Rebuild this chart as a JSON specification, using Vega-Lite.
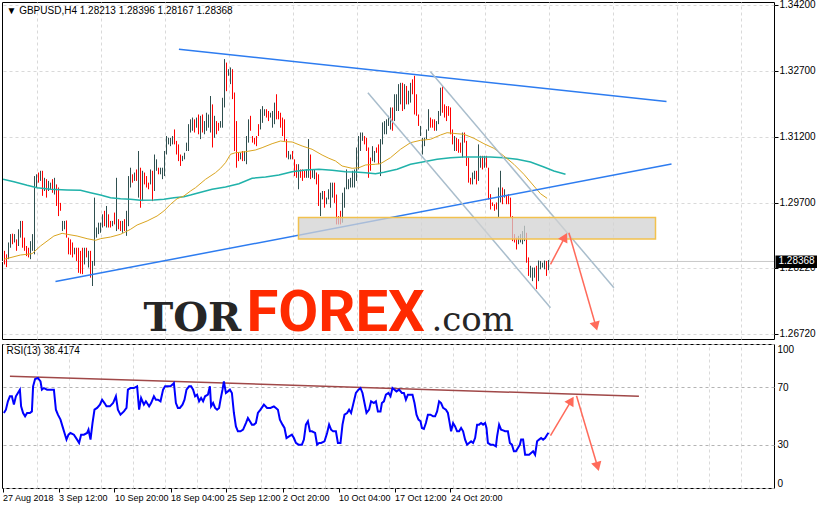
{
"$schema": "https://vega.github.io/schema/vega-lite/v6.json",
"background": "white",
"padding": {"left": -1, "top": -1, "right": 0, "bottom": 0},
"spacing": -5,
"config": {"view": {"stroke": "#000000", "strokeWidth": 1}, "font": "Liberation Sans", "axis": {"labelFont": "Liberation Sans", "labelFontSize": 10, "labelColor": "#000000", "tickColor": "#000000"}},
"datasets": {
"candles": [
{"i":1,"d":"dn","h":1.2861,"l":1.2830},{"i":2,"d":"dn","h":1.2853,"l":1.2824},{"i":3,"d":"up","h":1.2880,"l":1.2842},{"i":4,"d":"up","h":1.2899,"l":1.2868},{"i":5,"d":"dn","h":1.2900,"l":1.2876},{"i":6,"d":"up","h":1.2899,"l":1.2880},{"i":7,"d":"dn","h":1.2887,"l":1.2861},{"i":8,"d":"up","h":1.2910,"l":1.2872},{"i":9,"d":"up","h":1.2929,"l":1.2891},{"i":10,"d":"dn","h":1.2929,"l":1.2868},
{"i":11,"d":"dn","h":1.2891,"l":1.2861},{"i":12,"d":"dn","h":1.2872,"l":1.2849},{"i":13,"d":"dn","h":1.2868,"l":1.2846},{"i":14,"d":"up","h":1.2883,"l":1.2842},{"i":15,"d":"up","h":1.2899,"l":1.2861},{"i":16,"d":"up","h":1.3031,"l":1.2853},{"i":17,"d":"up","h":1.3035,"l":1.3005},{"i":18,"d":"dn","h":1.3039,"l":1.3016},{"i":19,"d":"up","h":1.3043,"l":1.3020},{"i":20,"d":"dn","h":1.3043,"l":1.2986},
{"i":21,"d":"up","h":1.3027,"l":1.2997},{"i":22,"d":"dn","h":1.3024,"l":1.2982},{"i":23,"d":"up","h":1.3020,"l":1.2997},{"i":24,"d":"up","h":1.3016,"l":1.3001},{"i":25,"d":"dn","h":1.3024,"l":1.2993},{"i":26,"d":"up","h":1.3027,"l":1.2989},{"i":27,"d":"dn","h":1.3012,"l":1.2963},{"i":28,"d":"dn","h":1.3005,"l":1.2940},{"i":29,"d":"dn","h":1.2970,"l":1.2952},{"i":30,"d":"up","h":1.2929,"l":1.2906},
{"i":31,"d":"up","h":1.2929,"l":1.2910},{"i":32,"d":"dn","h":1.2930,"l":1.2891},{"i":33,"d":"dn","h":1.2891,"l":1.2853},{"i":34,"d":"dn","h":1.2887,"l":1.2852},{"i":35,"d":"dn","h":1.2880,"l":1.2846},{"i":36,"d":"up","h":1.2868,"l":1.2853},{"i":37,"d":"dn","h":1.2868,"l":1.2838},{"i":38,"d":"dn","h":1.2868,"l":1.2811},{"i":39,"d":"dn","h":1.2861,"l":1.2809},{"i":40,"d":"dn","h":1.2868,"l":1.2808},
{"i":41,"d":"up","h":1.2868,"l":1.2830},{"i":42,"d":"dn","h":1.2868,"l":1.2846},{"i":43,"d":"up","h":1.2861,"l":1.2823},{"i":44,"d":"dn","h":1.2861,"l":1.2800},{"i":45,"d":"up","h":1.2838,"l":1.2781},{"i":46,"d":"up","h":1.2982,"l":1.2827},{"i":47,"d":"up","h":1.2914,"l":1.2891},{"i":48,"d":"up","h":1.2925,"l":1.2899},{"i":49,"d":"up","h":1.2925,"l":1.2902},{"i":50,"d":"up","h":1.2944,"l":1.2914},
{"i":51,"d":"dn","h":1.2952,"l":1.2917},{"i":52,"d":"up","h":1.2963,"l":1.2914},{"i":53,"d":"dn","h":1.2944,"l":1.2914},{"i":54,"d":"dn","h":1.2929,"l":1.2914},{"i":55,"d":"up","h":1.2929,"l":1.2917},{"i":56,"d":"dn","h":1.2948,"l":1.2921},{"i":57,"d":"up","h":1.3027,"l":1.2906},{"i":58,"d":"dn","h":1.2933,"l":1.2910},{"i":59,"d":"dn","h":1.2929,"l":1.2906},{"i":60,"d":"up","h":1.2929,"l":1.2902},
{"i":61,"d":"dn","h":1.2933,"l":1.2906},{"i":62,"d":"up","h":1.2952,"l":1.2895},{"i":63,"d":"up","h":1.3031,"l":1.2917},{"i":64,"d":"up","h":1.3050,"l":1.3005},{"i":65,"d":"dn","h":1.3035,"l":1.3016},{"i":66,"d":"up","h":1.3039,"l":1.3020},{"i":67,"d":"dn","h":1.3046,"l":1.3020},{"i":68,"d":"up","h":1.3088,"l":1.2982},{"i":69,"d":"dn","h":1.3050,"l":1.2959},{"i":70,"d":"up","h":1.3043,"l":1.2974},
{"i":71,"d":"dn","h":1.3039,"l":1.3012},{"i":72,"d":"dn","h":1.3031,"l":1.3005},{"i":73,"d":"dn","h":1.3016,"l":1.3001},{"i":74,"d":"up","h":1.3046,"l":1.3012},{"i":75,"d":"dn","h":1.3043,"l":1.2974},{"i":76,"d":"up","h":1.3080,"l":1.2997},{"i":77,"d":"up","h":1.3069,"l":1.3043},{"i":78,"d":"dn","h":1.3050,"l":1.3035},{"i":79,"d":"up","h":1.3050,"l":1.3035},{"i":80,"d":"up","h":1.3050,"l":1.3024},
{"i":81,"d":"up","h":1.3088,"l":1.3031},{"i":82,"d":"up","h":1.3122,"l":1.3080},{"i":83,"d":"up","h":1.3118,"l":1.3103},{"i":84,"d":"up","h":1.3118,"l":1.3099},{"i":85,"d":"up","h":1.3122,"l":1.3103},{"i":86,"d":"dn","h":1.3137,"l":1.3103},{"i":87,"d":"dn","h":1.3111,"l":1.3080},{"i":88,"d":"dn","h":1.3103,"l":1.3065},{"i":89,"d":"dn","h":1.3080,"l":1.3054},{"i":90,"d":"up","h":1.3077,"l":1.3065},
{"i":91,"d":"up","h":1.3084,"l":1.3069},{"i":92,"d":"up","h":1.3107,"l":1.3088},{"i":93,"d":"up","h":1.3149,"l":1.3088},{"i":94,"d":"up","h":1.3160,"l":1.3130},{"i":95,"d":"up","h":1.3164,"l":1.3134},{"i":96,"d":"dn","h":1.3160,"l":1.3130},{"i":97,"d":"up","h":1.3164,"l":1.3141},{"i":98,"d":"dn","h":1.3171,"l":1.3126},{"i":99,"d":"up","h":1.3168,"l":1.3115},{"i":100,"d":"dn","h":1.3171,"l":1.3130},
{"i":101,"d":"up","h":1.3156,"l":1.3126},{"i":102,"d":"up","h":1.3175,"l":1.3134},{"i":103,"d":"up","h":1.3171,"l":1.3141},{"i":104,"d":"up","h":1.3213,"l":1.3130},{"i":105,"d":"dn","h":1.3194,"l":1.3096},{"i":106,"d":"up","h":1.3168,"l":1.3118},{"i":107,"d":"dn","h":1.3156,"l":1.3126},{"i":108,"d":"dn","h":1.3152,"l":1.3134},{"i":109,"d":"up","h":1.3156,"l":1.3141},{"i":110,"d":"up","h":1.3209,"l":1.3141},
{"i":111,"d":"up","h":1.3297,"l":1.3187},{"i":112,"d":"dn","h":1.3289,"l":1.3224},{"i":113,"d":"up","h":1.3274,"l":1.3259},{"i":114,"d":"up","h":1.3278,"l":1.3240},{"i":115,"d":"dn","h":1.3274,"l":1.3206},{"i":116,"d":"dn","h":1.3221,"l":1.3088},{"i":117,"d":"dn","h":1.3156,"l":1.3050},{"i":118,"d":"dn","h":1.3084,"l":1.3065},{"i":119,"d":"up","h":1.3084,"l":1.3069},{"i":120,"d":"dn","h":1.3088,"l":1.3065},
{"i":121,"d":"up","h":1.3088,"l":1.3065},{"i":122,"d":"up","h":1.3122,"l":1.3058},{"i":123,"d":"up","h":1.3160,"l":1.3107},{"i":124,"d":"dn","h":1.3168,"l":1.3134},{"i":125,"d":"dn","h":1.3122,"l":1.3107},{"i":126,"d":"dn","h":1.3118,"l":1.3103},{"i":127,"d":"dn","h":1.3122,"l":1.3099},{"i":128,"d":"dn","h":1.3149,"l":1.3122},{"i":129,"d":"up","h":1.3183,"l":1.3137},{"i":130,"d":"up","h":1.3190,"l":1.3152},
{"i":131,"d":"up","h":1.3183,"l":1.3168},{"i":132,"d":"dn","h":1.3183,"l":1.3164},{"i":133,"d":"dn","h":1.3179,"l":1.3156},{"i":134,"d":"up","h":1.3175,"l":1.3164},{"i":135,"d":"up","h":1.3179,"l":1.3141},{"i":136,"d":"up","h":1.3198,"l":1.3149},{"i":137,"d":"dn","h":1.3217,"l":1.3160},{"i":138,"d":"dn","h":1.3179,"l":1.3160},{"i":139,"d":"dn","h":1.3175,"l":1.3141},{"i":140,"d":"dn","h":1.3164,"l":1.3122},
{"i":141,"d":"dn","h":1.3160,"l":1.3111},{"i":142,"d":"dn","h":1.3115,"l":1.3073},{"i":143,"d":"up","h":1.3088,"l":1.3069},{"i":144,"d":"up","h":1.3080,"l":1.3069},{"i":145,"d":"dn","h":1.3088,"l":1.3069},{"i":146,"d":"dn","h":1.3069,"l":1.3031},{"i":147,"d":"dn","h":1.3058,"l":1.3027},{"i":148,"d":"up","h":1.3058,"l":1.3001},{"i":149,"d":"dn","h":1.3046,"l":1.3027},{"i":150,"d":"dn","h":1.3046,"l":1.3020},
{"i":151,"d":"dn","h":1.3043,"l":1.3027},{"i":152,"d":"up","h":1.3046,"l":1.3027},{"i":153,"d":"up","h":1.3115,"l":1.3027},{"i":154,"d":"dn","h":1.3080,"l":1.3024},{"i":155,"d":"up","h":1.3046,"l":1.3027},{"i":156,"d":"up","h":1.3046,"l":1.3024},{"i":157,"d":"dn","h":1.3039,"l":1.3012},{"i":158,"d":"dn","h":1.3035,"l":1.2963},{"i":159,"d":"up","h":1.2993,"l":1.2940},{"i":160,"d":"up","h":1.2997,"l":1.2978},
{"i":161,"d":"dn","h":1.2997,"l":1.2959},{"i":162,"d":"up","h":1.2982,"l":1.2967},{"i":163,"d":"up","h":1.3001,"l":1.2978},{"i":164,"d":"up","h":1.3016,"l":1.2959},{"i":165,"d":"up","h":1.3016,"l":1.2982},{"i":166,"d":"dn","h":1.3016,"l":1.2970},{"i":167,"d":"dn","h":1.2989,"l":1.2921},{"i":168,"d":"dn","h":1.2940,"l":1.2921},{"i":169,"d":"dn","h":1.2952,"l":1.2921},{"i":170,"d":"up","h":1.2993,"l":1.2925},
{"i":171,"d":"up","h":1.3005,"l":1.2959},{"i":172,"d":"up","h":1.3046,"l":1.3001},{"i":173,"d":"up","h":1.3024,"l":1.3001},{"i":174,"d":"up","h":1.3027,"l":1.3005},{"i":175,"d":"up","h":1.3043,"l":1.3005},{"i":176,"d":"up","h":1.3046,"l":1.3005},{"i":177,"d":"up","h":1.3096,"l":1.3020},{"i":178,"d":"up","h":1.3122,"l":1.3046},{"i":179,"d":"up","h":1.3130,"l":1.3088},{"i":180,"d":"up","h":1.3130,"l":1.3111},
{"i":181,"d":"dn","h":1.3122,"l":1.3103},{"i":182,"d":"dn","h":1.3118,"l":1.3088},{"i":183,"d":"dn","h":1.3096,"l":1.3027},{"i":184,"d":"dn","h":1.3073,"l":1.3043},{"i":185,"d":"up","h":1.3099,"l":1.3065},{"i":186,"d":"up","h":1.3088,"l":1.3062},{"i":187,"d":"dn","h":1.3096,"l":1.3084},{"i":188,"d":"dn","h":1.3103,"l":1.3058},{"i":189,"d":"up","h":1.3115,"l":1.3031},{"i":190,"d":"up","h":1.3153,"l":1.3103},
{"i":191,"d":"up","h":1.3156,"l":1.3126},{"i":192,"d":"up","h":1.3160,"l":1.3126},{"i":193,"d":"up","h":1.3168,"l":1.3145},{"i":194,"d":"up","h":1.3187,"l":1.3137},{"i":195,"d":"dn","h":1.3187,"l":1.3134},{"i":196,"d":"up","h":1.3217,"l":1.3156},{"i":197,"d":"up","h":1.3217,"l":1.3179},{"i":198,"d":"up","h":1.3240,"l":1.3179},{"i":199,"d":"up","h":1.3243,"l":1.3194},{"i":200,"d":"dn","h":1.3243,"l":1.3179},
{"i":201,"d":"up","h":1.3240,"l":1.3183},{"i":202,"d":"dn","h":1.3236,"l":1.3194},{"i":203,"d":"up","h":1.3225,"l":1.3194},{"i":204,"d":"up","h":1.3243,"l":1.3198},{"i":205,"d":"dn","h":1.3251,"l":1.3217},{"i":206,"d":"dn","h":1.3259,"l":1.3171},{"i":207,"d":"dn","h":1.3217,"l":1.3168},{"i":208,"d":"dn","h":1.3171,"l":1.3145},{"i":209,"d":"up","h":1.3145,"l":1.3122},{"i":210,"d":"up","h":1.3118,"l":1.3080},
{"i":211,"d":"up","h":1.3118,"l":1.3099},{"i":212,"d":"up","h":1.3137,"l":1.3115},{"i":213,"d":"up","h":1.3183,"l":1.3134},{"i":214,"d":"dn","h":1.3164,"l":1.3141},{"i":215,"d":"dn","h":1.3160,"l":1.3141},{"i":216,"d":"dn","h":1.3160,"l":1.3134},{"i":217,"d":"up","h":1.3156,"l":1.3134},{"i":218,"d":"up","h":1.3179,"l":1.3149},{"i":219,"d":"up","h":1.3232,"l":1.3168},{"i":220,"d":"dn","h":1.3236,"l":1.3175},
{"i":221,"d":"dn","h":1.3194,"l":1.3164},{"i":222,"d":"dn","h":1.3190,"l":1.3156},{"i":223,"d":"dn","h":1.3190,"l":1.3168},{"i":224,"d":"dn","h":1.3187,"l":1.3126},{"i":225,"d":"dn","h":1.3137,"l":1.3103},{"i":226,"d":"up","h":1.3122,"l":1.3088},{"i":227,"d":"dn","h":1.3118,"l":1.3088},{"i":228,"d":"dn","h":1.3115,"l":1.3084},{"i":229,"d":"dn","h":1.3107,"l":1.3084},{"i":230,"d":"up","h":1.3130,"l":1.3073},
{"i":231,"d":"dn","h":1.3130,"l":1.3107},{"i":232,"d":"dn","h":1.3111,"l":1.3054},{"i":233,"d":"dn","h":1.3073,"l":1.3016},{"i":234,"d":"dn","h":1.3027,"l":1.3012},{"i":235,"d":"up","h":1.3039,"l":1.3012},{"i":236,"d":"up","h":1.3043,"l":1.3024},{"i":237,"d":"dn","h":1.3043,"l":1.3012},{"i":238,"d":"up","h":1.3103,"l":1.3020},{"i":239,"d":"up","h":1.3077,"l":1.3050},{"i":240,"d":"dn","h":1.3077,"l":1.3046},
{"i":241,"d":"up","h":1.3077,"l":1.3050},{"i":242,"d":"dn","h":1.3077,"l":1.3050},{"i":243,"d":"dn","h":1.3050,"l":1.2978},{"i":244,"d":"dn","h":1.2990,"l":1.2955},{"i":245,"d":"dn","h":1.2971,"l":1.2963},{"i":246,"d":"dn","h":1.2967,"l":1.2952},{"i":247,"d":"dn","h":1.2971,"l":1.2955},{"i":248,"d":"up","h":1.3005,"l":1.2936},{"i":249,"d":"up","h":1.3043,"l":1.2971},{"i":250,"d":"dn","h":1.3005,"l":1.2967},
{"i":251,"d":"up","h":1.3001,"l":1.2982},{"i":252,"d":"dn","h":1.2986,"l":1.2967},{"i":253,"d":"dn","h":1.2990,"l":1.2967},{"i":254,"d":"dn","h":1.2982,"l":1.2936},{"i":255,"d":"dn","h":1.2940,"l":1.2883},{"i":256,"d":"dn","h":1.2899,"l":1.2880},{"i":257,"d":"dn","h":1.2891,"l":1.2864},{"i":258,"d":"up","h":1.2895,"l":1.2876},{"i":259,"d":"up","h":1.2899,"l":1.2880},{"i":260,"d":"up","h":1.2906,"l":1.2876},
{"i":261,"d":"up","h":1.2918,"l":1.2883},{"i":262,"d":"dn","h":1.2902,"l":1.2834},{"i":263,"d":"dn","h":1.2846,"l":1.2804},{"i":264,"d":"up","h":1.2827,"l":1.2800},{"i":265,"d":"up","h":1.2823,"l":1.2792},{"i":266,"d":"up","h":1.2823,"l":1.2800},{"i":267,"d":"dn","h":1.2827,"l":1.2774},{"i":268,"d":"up","h":1.2839,"l":1.2792},{"i":269,"d":"up","h":1.2838,"l":1.2819},{"i":270,"d":"up","h":1.2834,"l":1.2823},
{"i":271,"d":"up","h":1.2839,"l":1.2819},{"i":272,"d":"dn","h":1.2838,"l":1.2804},{"i":273,"d":"up","h":1.2840,"l":1.2817}
],
"maFast": [
{"i":0.7,"v":1.28417},{"i":9,"v":1.28515},{"i":14.8,"v":1.28545},{"i":19,"v":1.2872},{"i":25.7,"v":1.28947},{"i":29.8,"v":1.29008},{"i":32.3,"v":1.28986},{"i":37.3,"v":1.28947},{"i":42.3,"v":1.28886},{"i":46.5,"v":1.28849},{"i":49,"v":1.28886},{"i":54,"v":1.28924},{"i":59,"v":1.28986},{"i":64,"v":1.29099},{"i":67.3,"v":1.29197},{"i":72.3,"v":1.29288},{"i":77.3,"v":1.29402},{"i":80.7,"v":1.29516},{"i":84,"v":1.29668},{"i":87.3,"v":1.29795},{"i":90.7,"v":1.29857},{"i":94,"v":1.2997},{"i":96.5,"v":1.30045},{"i":101.5,"v":1.30236},{"i":106.5,"v":1.30387},{"i":109,"v":1.30486},{"i":111.5,"v":1.30614},{"i":114,"v":1.30805},{"i":116.5,"v":1.30841},{"i":121.5,"v":1.30864},{"i":126.5,"v":1.30903},{"i":129.8,"v":1.30955},{"i":134.8,"v":1.31046},{"i":139,"v":1.31107},{"i":141.5,"v":1.31092},{"i":144.8,"v":1.31085},{"i":149.8,"v":1.30994},{"i":154.8,"v":1.30919},{"i":159.8,"v":1.30789},{"i":163.2,"v":1.30714},{"i":166.5,"v":1.30653},{"i":169.8,"v":1.30539},{"i":174.8,"v":1.30486},{"i":178.2,"v":1.305},{"i":181.5,"v":1.30562},{"i":186.5,"v":1.30578},{"i":189,"v":1.30592},{"i":194,"v":1.30728},{"i":199,"v":1.30919},{"i":204,"v":1.31069},{"i":209,"v":1.31123},{"i":214,"v":1.31146},{"i":219,"v":1.31244},{"i":222.3,"v":1.31296},{"i":227.3,"v":1.31273},{"i":230.7,"v":1.3126},{"i":235.7,"v":1.31169},{"i":240.7,"v":1.31046},{"i":245.7,"v":1.30941},{"i":250.7,"v":1.30766},{"i":255.7,"v":1.30578},{"i":260.7,"v":1.3035},{"i":265.7,"v":1.30084},{"i":269,"v":1.29909},{"i":272.3,"v":1.29804}
],
"maSlow": [
{"i":0.3,"v":1.30236},{"i":5.7,"v":1.30182},{"i":12.3,"v":1.301},{"i":17.3,"v":1.30045},{"i":24,"v":1.30009},{"i":32.3,"v":1.29993},{"i":39,"v":1.29986},{"i":44,"v":1.29932},{"i":49,"v":1.29879},{"i":54,"v":1.29818},{"i":59,"v":1.29795},{"i":64,"v":1.29782},{"i":69,"v":1.29759},{"i":75.7,"v":1.29766},{"i":80.7,"v":1.29782},{"i":85.7,"v":1.29818},{"i":90.7,"v":1.29841},{"i":94,"v":1.29879},{"i":98.2,"v":1.29932},{"i":104.8,"v":1.30009},{"i":111.5,"v":1.30061},{"i":118.2,"v":1.30136},{"i":124.8,"v":1.30259},{"i":131.5,"v":1.30289},{"i":138.2,"v":1.30334},{"i":144.8,"v":1.30409},{"i":151.5,"v":1.30448},{"i":158.2,"v":1.30464},{"i":164.8,"v":1.30441},{"i":171.5,"v":1.30409},{"i":176.5,"v":1.30402},{"i":181.5,"v":1.30387},{"i":186.5,"v":1.30364},{"i":190.7,"v":1.30395},{"i":197.3,"v":1.30464},{"i":204,"v":1.30578},{"i":210.7,"v":1.30637},{"i":217.3,"v":1.30691},{"i":224,"v":1.30728},{"i":230.7,"v":1.30744},{"i":237.3,"v":1.30744},{"i":244,"v":1.30744},{"i":250.7,"v":1.30728},{"i":257.3,"v":1.30691},{"i":264,"v":1.3063},{"i":270.7,"v":1.30516},{"i":275.7,"v":1.30425},{"i":281.5,"v":1.3035}
],
"trend": [
{"line":"up","i":88.2,"p":1.33193},{"line":"up","i":332,"p":1.32006},
{"line":"lo","i":26.5,"p":1.27912},{"line":"lo","i":334.5,"p":1.30584},
{"line":"chA","i":182.7,"p":1.32206},{"line":"chA","i":274,"p":1.27317},
{"line":"chB","i":214,"p":1.32683},{"line":"chB","i":305.7,"p":1.27771}
],
"zone": [{"i1":148,"i2":326.5,"p1":1.28879,"p2":1.29368}],
"arrows": [
{"arrow":"a1","i":274,"p":1.28304},{"arrow":"a1","i":281.2,"p":1.28922},
{"arrow":"a2","i":283.2,"p":1.29022},{"arrow":"a2","i":296.7,"p":1.26896}
],
"heads": [{"arrow":"a1","i":281.2,"p":1.28922},{"arrow":"a2","i":296.7,"p":1.26896}],
"rsi": [
{"i":0.7,"v":52.1},{"i":1.7,"v":54.4},{"i":2.7,"v":60.2},{"i":3.7,"v":63.7},{"i":4.7,"v":63.7},{"i":5.7,"v":57.9},{"i":6.7,"v":63.7},{"i":7.7,"v":66.0},{"i":8.7,"v":68.3},{"i":9.3,"v":56.7},{"i":10.3,"v":52.1},{"i":11.3,"v":49.8},{"i":12.3,"v":52.1},{"i":13.7,"v":52.1},{"i":14.7,"v":53.2},{"i":15.3,"v":70.6},{"i":16.3,"v":75.7},{"i":17.7,"v":76.4},{"i":19,"v":74.1},{"i":19.7,"v":68.3},{"i":20.7,"v":69.4},{"i":22.3,"v":68.3},{"i":24,"v":68.3},{"i":25.7,"v":68.3},{"i":26.7,"v":54.4},{"i":27.7,"v":50.9},{"i":29,"v":47.5},{"i":30,"v":42.8},{"i":31,"v":38.2},{"i":32,"v":33.6},{"i":33,"v":37.0},{"i":34,"v":38.2},{"i":35.7,"v":37.0},{"i":37.3,"v":33.6},{"i":38.3,"v":31.3},{"i":39.3,"v":37.0},{"i":40.7,"v":37.0},{"i":42.3,"v":38.2},{"i":43,"v":40.5},{"i":44,"v":33.6},{"i":45,"v":45.1},{"i":46,"v":54.4},{"i":47.3,"v":55.6},{"i":48.7,"v":57.9},{"i":49.8,"v":61.3},{"i":51,"v":59.0},{"i":52,"v":56.7},{"i":53.7,"v":56.7},{"i":55.3,"v":59.0},{"i":56.7,"v":63.7},{"i":57.7,"v":54.4},{"i":59,"v":50.9},{"i":60.7,"v":53.2},{"i":62,"v":55.6},{"i":62.7,"v":68.3},{"i":64,"v":69.4},{"i":65.7,"v":69.4},{"i":67.3,"v":70.6},{"i":68.3,"v":54.4},{"i":69.3,"v":62.5},{"i":70.7,"v":57.9},{"i":71.7,"v":60.2},{"i":73.3,"v":56.7},{"i":74.3,"v":59.0},{"i":75.7,"v":63.7},{"i":76.7,"v":61.3},{"i":77.7,"v":61.3},{"i":79,"v":60.2},{"i":80.3,"v":68.3},{"i":81.3,"v":70.6},{"i":82.7,"v":70.6},{"i":84,"v":70.6},{"i":85,"v":71.8},{"i":85.7,"v":72.9},{"i":86.7,"v":59.0},{"i":87.7,"v":55.6},{"i":88.7,"v":55.6},{"i":90,"v":57.9},{"i":91,"v":61.3},{"i":92,"v":68.3},{"i":93.3,"v":70.6},{"i":94.3,"v":70.6},{"i":95.3,"v":68.3},{"i":96.3,"v":63.7},{"i":97.3,"v":64.8},{"i":98.3,"v":60.2},{"i":99.3,"v":62.5},{"i":100.3,"v":60.2},{"i":101.3,"v":63.7},{"i":102.7,"v":64.8},{"i":103.7,"v":70.6},{"i":104.3,"v":56.7},{"i":105.3,"v":59.0},{"i":106.3,"v":55.6},{"i":107.3,"v":54.4},{"i":108.3,"v":55.6},{"i":109,"v":61.3},{"i":110,"v":68.3},{"i":110.7,"v":74.1},{"i":111.7,"v":66.0},{"i":112.7,"v":67.1},{"i":113.7,"v":68.3},{"i":114.7,"v":66.0},{"i":115.7,"v":52.1},{"i":116.7,"v":42.8},{"i":117.7,"v":39.4},{"i":119,"v":39.4},{"i":120.3,"v":40.5},{"i":121.7,"v":45.1},{"i":122.7,"v":48.6},{"i":123.7,"v":46.3},{"i":124.7,"v":44.0},{"i":125.7,"v":44.0},{"i":126.7,"v":45.1},{"i":127.7,"v":52.1},{"i":129,"v":54.4},{"i":130.7,"v":57.9},{"i":132.3,"v":55.6},{"i":134,"v":55.6},{"i":135.7,"v":56.7},{"i":136.7,"v":55.6},{"i":137.7,"v":54.4},{"i":138.7,"v":47.5},{"i":140,"v":44.0},{"i":141,"v":41.7},{"i":142,"v":34.7},{"i":143.3,"v":35.9},{"i":144.7,"v":37.0},{"i":145.7,"v":34.7},{"i":146.7,"v":31.3},{"i":148,"v":30.1},{"i":149.7,"v":30.1},{"i":150.7,"v":33.6},{"i":151.7,"v":44.0},{"i":152.7,"v":46.3},{"i":153.7,"v":39.4},{"i":154.7,"v":39.4},{"i":156.3,"v":38.2},{"i":157.3,"v":30.1},{"i":158.3,"v":31.3},{"i":159.3,"v":31.3},{"i":161,"v":32.4},{"i":162.3,"v":38.2},{"i":163.3,"v":44.0},{"i":164.3,"v":40.5},{"i":165.3,"v":39.4},{"i":166.7,"v":39.4},{"i":167.7,"v":31.3},{"i":169,"v":31.3},{"i":170,"v":44.0},{"i":171,"v":50.9},{"i":172.3,"v":52.1},{"i":173.3,"v":54.4},{"i":174.3,"v":52.1},{"i":175.3,"v":57.9},{"i":176.7,"v":66.0},{"i":178,"v":68.3},{"i":179,"v":69.4},{"i":180,"v":66.0},{"i":181,"v":59.0},{"i":182,"v":52.1},{"i":183.3,"v":54.4},{"i":184.3,"v":60.2},{"i":185.7,"v":59.0},{"i":186.7,"v":60.2},{"i":187.7,"v":53.2},{"i":189,"v":53.2},{"i":189.7,"v":59.0},{"i":190.7,"v":60.2},{"i":191.7,"v":64.8},{"i":193,"v":66.0},{"i":194,"v":63.7},{"i":195,"v":69.4},{"i":196,"v":68.3},{"i":197,"v":67.1},{"i":198.3,"v":68.3},{"i":199.7,"v":66.0},{"i":200.7,"v":66.0},{"i":201.7,"v":61.3},{"i":202.7,"v":64.8},{"i":204,"v":64.8},{"i":205,"v":64.8},{"i":206,"v":59.0},{"i":207,"v":50.9},{"i":208,"v":47.5},{"i":209,"v":46.3},{"i":209.7,"v":41.7},{"i":210.7,"v":41.0},{"i":211.7,"v":45.1},{"i":212.7,"v":50.9},{"i":214,"v":50.9},{"i":215.3,"v":49.8},{"i":216.3,"v":49.8},{"i":217.3,"v":53.2},{"i":218.3,"v":60.2},{"i":219.3,"v":59.0},{"i":220.3,"v":55.6},{"i":221.7,"v":54.4},{"i":222.7,"v":52.1},{"i":223.3,"v":47.5},{"i":224.3,"v":39.4},{"i":225.3,"v":45.1},{"i":226.3,"v":42.8},{"i":227.3,"v":39.4},{"i":228.3,"v":39.4},{"i":229.3,"v":41.7},{"i":230.3,"v":39.4},{"i":231.3,"v":33.6},{"i":232.3,"v":30.1},{"i":233.3,"v":31.3},{"i":234.3,"v":32.4},{"i":235.3,"v":31.3},{"i":236.3,"v":34.7},{"i":237.3,"v":44.0},{"i":238.3,"v":44.0},{"i":239.3,"v":45.1},{"i":240.3,"v":44.0},{"i":241.3,"v":45.1},{"i":242,"v":41.7},{"i":242.7,"v":31.3},{"i":244,"v":30.1},{"i":245.3,"v":30.1},{"i":246.7,"v":28.9},{"i":247.3,"v":35.9},{"i":248.3,"v":44.0},{"i":249.3,"v":40.5},{"i":250.3,"v":40.0},{"i":251.3,"v":39.4},{"i":252.7,"v":39.4},{"i":253.7,"v":31.3},{"i":254.7,"v":30.1},{"i":255.7,"v":25.5},{"i":256.7,"v":25.5},{"i":257.7,"v":27.8},{"i":258.7,"v":30.1},{"i":259.3,"v":33.6},{"i":260.3,"v":33.6},{"i":261.3,"v":23.1},{"i":262.3,"v":23.1},{"i":263.3,"v":23.1},{"i":264.3,"v":24.3},{"i":265.3,"v":25.5},{"i":266.3,"v":23.1},{"i":267.3,"v":32.4},{"i":268.3,"v":33.6},{"i":269.3,"v":34.7},{"i":270.3,"v":33.6},{"i":271.3,"v":34.7},{"i":272.3,"v":37.0},{"i":273,"v":38.4}
],
"rsiTrend": [{"i":3.7,"v":77.6},{"i":318.2,"v":63.7}],
"rsiArrows": [
{"arrow":"b1","i":274,"v":36.3},{"arrow":"b1","i":284.4,"v":60.7},
{"arrow":"b2","i":287,"v":64.1},{"arrow":"b2","i":297.5,"v":14.9}
],
"rsiHeads": [{"arrow":"b1","i":284.4,"v":60.7},{"arrow":"b2","i":297.5,"v":14.9}],
"last": [{"i":388,"p":1.28368}],
"texts": [{"t":"x"}]
},
"vconcat": [
{
"width": 772, "height": 337,
"layer": [
{"data": {"name": "last"},
 "mark": {"type": "rule", "color": "#c8c8c8", "strokeWidth": 1},
 "encoding": {"y": {"field": "p", "type": "quantitative", "scale": {"domain": [1.26605, 1.34268], "nice": false, "zero": false}, "title": null}}},
{"data": {"name": "candles"},
 "mark": {"type": "rule", "strokeWidth": 1},
 "encoding": {
  "x": {"field": "i", "type": "quantitative", "title": null, "scale": {"domain": [-0.25, 385.75], "nice": false, "zero": false},
        "axis": {"orient": "top", "values": [17,33,49,65,81,97,113,129,145,161,177,193,209,225,241,257,273,289,305,321,337,353,369], "labels": false, "ticks": false, "domain": false, "grid": true, "gridDash": [3,3], "gridColor": "#d9d9d9", "title": null, "minExtent": 0, "maxExtent": 0, "offset": 0}},
  "y": {"field": "l", "type": "quantitative", "title": null, "scale": {"domain": [1.26605, 1.34268], "nice": false, "zero": false},
        "axis": {"orient": "right", "values": [1.342,1.3344,1.327,1.3196,1.312,1.3046,1.297,1.2896,1.2822,1.2746,1.2672], "format": ".5f", "grid": true, "gridDash": [3,3], "gridColor": "#d9d9d9", "domain": false, "tickSize": 4, "labelPadding": 1, "title": null}},
  "y2": {"field": "h"},
  "color": {"field": "d", "type": "nominal", "scale": {"domain": ["up","dn"], "range": ["#2F4F4F","#FF0000"]}, "legend": null}
 }},
{"data": {"name": "maSlow"},
 "mark": {"type": "line", "color": "#20B2AA", "strokeWidth": 1.5},
 "encoding": {"x": {"field": "i", "type": "quantitative", "title": null, "scale": {"domain": [-0.25, 385.75], "nice": false, "zero": false}},
  "y": {"field": "v", "type": "quantitative", "title": null, "scale": {"domain": [1.26605, 1.34268], "nice": false, "zero": false}}}},
{"data": {"name": "maFast"},
 "mark": {"type": "line", "color": "#DAA520", "strokeWidth": 1},
 "encoding": {"x": {"field": "i", "type": "quantitative", "title": null, "scale": {"domain": [-0.25, 385.75], "nice": false, "zero": false}},
  "y": {"field": "v", "type": "quantitative", "title": null, "scale": {"domain": [1.26605, 1.34268], "nice": false, "zero": false}}}},
{"data": {"name": "trend"},
 "transform": [{"filter": "datum.line == 'up' || datum.line == 'lo'"}],
 "mark": {"type": "line", "strokeWidth": 1.5, "color": "#2D7CF0"},
 "encoding": {"x": {"field": "i", "type": "quantitative", "title": null, "scale": {"domain": [-0.25, 385.75], "nice": false, "zero": false}},
  "y": {"field": "p", "type": "quantitative", "title": null, "scale": {"domain": [1.26605, 1.34268], "nice": false, "zero": false}},
  "detail": {"field": "line"}}},
{"data": {"name": "trend"},
 "transform": [{"filter": "datum.line == 'chA' || datum.line == 'chB'"}],
 "mark": {"type": "line", "strokeWidth": 1.5, "color": "#A9BDCC"},
 "encoding": {"x": {"field": "i", "type": "quantitative", "title": null, "scale": {"domain": [-0.25, 385.75], "nice": false, "zero": false}},
  "y": {"field": "p", "type": "quantitative", "title": null, "scale": {"domain": [1.26605, 1.34268], "nice": false, "zero": false}},
  "detail": {"field": "line"}}},
{"data": {"name": "zone"},
 "mark": {"type": "rect", "fill": "#d2d2d2", "fillOpacity": 0.75, "stroke": "#F2C14E", "strokeWidth": 1.5},
 "encoding": {"x": {"field": "i1", "type": "quantitative", "title": null, "scale": {"domain": [-0.25, 385.75], "nice": false, "zero": false}},
  "x2": {"field": "i2"},
  "y": {"field": "p1", "type": "quantitative", "title": null, "scale": {"domain": [1.26605, 1.34268], "nice": false, "zero": false}},
  "y2": {"field": "p2"}}},
{"data": {"name": "arrows"},
 "mark": {"type": "line", "color": "#FF6A5A", "strokeWidth": 1.5},
 "encoding": {"x": {"field": "i", "type": "quantitative", "title": null, "scale": {"domain": [-0.25, 385.75], "nice": false, "zero": false}},
  "y": {"field": "p", "type": "quantitative", "title": null, "scale": {"domain": [1.26605, 1.34268], "nice": false, "zero": false}},
  "detail": {"field": "arrow"}}},
{"data": {"name": "heads"},
 "transform": [{"filter": "datum.arrow == 'a1'"}],
 "mark": {"type": "point", "shape": "triangle-up", "filled": true, "color": "#FF6A5A", "opacity": 1, "size": 110, "angle": 28},
 "encoding": {"x": {"field": "i", "type": "quantitative", "title": null, "scale": {"domain": [-0.25, 385.75], "nice": false, "zero": false}},
  "y": {"field": "p", "type": "quantitative", "title": null, "scale": {"domain": [1.26605, 1.34268], "nice": false, "zero": false}}}},
{"data": {"name": "heads"},
 "transform": [{"filter": "datum.arrow == 'a2'"}],
 "mark": {"type": "point", "shape": "triangle-up", "filled": true, "color": "#FF6A5A", "opacity": 1, "size": 110, "angle": 164},
 "encoding": {"x": {"field": "i", "type": "quantitative", "title": null, "scale": {"domain": [-0.25, 385.75], "nice": false, "zero": false}},
  "y": {"field": "p", "type": "quantitative", "title": null, "scale": {"domain": [1.26605, 1.34268], "nice": false, "zero": false}}}},
{"data": {"name": "texts"},
 "mark": {"type": "text", "text": "TOR", "font": "DejaVu Serif", "fontSize": 40, "fontWeight": "bold", "color": "#262626", "align": "left", "baseline": "alphabetic"},
 "encoding": {"x": {"datum": 70.5, "type": "quantitative", "scale": {"domain": [-0.25, 385.75], "nice": false, "zero": false}, "title": null},
  "y": {"datum": 1.26787, "type": "quantitative", "scale": {"domain": [1.26605, 1.34268], "nice": false, "zero": false}, "title": null}}},
{"data": {"name": "texts"},
 "mark": {"type": "text", "text": "FOREX", "font": "Roboto", "fontSize": 58, "fontWeight": "bold", "color": "#FF2A00", "align": "left", "baseline": "alphabetic"},
 "encoding": {"x": {"datum": 122, "type": "quantitative", "scale": {"domain": [-0.25, 385.75], "nice": false, "zero": false}, "title": null},
  "y": {"datum": 1.26787, "type": "quantitative", "scale": {"domain": [1.26605, 1.34268], "nice": false, "zero": false}, "title": null}}},
{"data": {"name": "texts"},
 "mark": {"type": "text", "text": ".com", "font": "DejaVu Serif", "fontSize": 34, "color": "#262626", "align": "left", "baseline": "alphabetic"},
 "encoding": {"x": {"datum": 214.5, "type": "quantitative", "scale": {"domain": [-0.25, 385.75], "nice": false, "zero": false}, "title": null},
  "y": {"datum": 1.26787, "type": "quantitative", "scale": {"domain": [1.26605, 1.34268], "nice": false, "zero": false}, "title": null}}},
{"data": {"name": "texts"},
 "mark": {"type": "text", "text": "▼ GBPUSD,H4  1.28213 1.28396 1.28167 1.28368", "font": "Liberation Sans", "fontSize": 10, "color": "#000000", "align": "left", "baseline": "middle"},
 "encoding": {"x": {"datum": 2, "type": "quantitative", "scale": {"domain": [-0.25, 385.75], "nice": false, "zero": false}, "title": null},
  "y": {"datum": 1.34064, "type": "quantitative", "scale": {"domain": [1.26605, 1.34268], "nice": false, "zero": false}, "title": null}}},
{"data": {"name": "texts"},
 "mark": {"type": "rect", "color": "#000000", "clip": false},
 "encoding": {"x": {"datum": 386.5, "type": "quantitative", "scale": {"domain": [-0.25, 385.75], "nice": false, "zero": false}, "title": null},
  "x2": {"datum": 407.5},
  "y": {"datum": 1.28504, "type": "quantitative", "scale": {"domain": [1.26605, 1.34268], "nice": false, "zero": false}, "title": null},
  "y2": {"datum": 1.28219}}},
{"data": {"name": "last"},
 "mark": {"type": "text", "font": "Liberation Sans", "fontSize": 10, "color": "#FFFFFF", "align": "left", "baseline": "middle"},
 "encoding": {"x": {"field": "i", "type": "quantitative", "scale": {"domain": [-0.25, 385.75], "nice": false, "zero": false}, "title": null},
  "y": {"field": "p", "type": "quantitative", "scale": {"domain": [1.26605, 1.34268], "nice": false, "zero": false}, "title": null},
  "text": {"field": "p", "type": "quantitative", "format": ".5f"}}}
]
},
{
"width": 772, "height": 144,
"resolve": {"axis": {"x": "independent"}},
"layer": [
{"data": {"name": "rsiTrend"},
 "mark": {"type": "line", "color": "#A04848", "strokeWidth": 1.5},
 "encoding": {"x": {"field": "i", "type": "quantitative", "title": null, "scale": {"domain": [-0.25, 385.75], "nice": false, "zero": false},
   "axis": {"orient": "top", "values": [17,33,49,65,81,97,113,129,145,161,177,193,209,225,241,257,273,289,305,321,337,353,369], "labels": false, "ticks": false, "domain": false, "grid": true, "gridDash": [3,3], "gridColor": "#d9d9d9", "title": null, "minExtent": 0, "maxExtent": 0, "offset": 0}},
  "y": {"field": "v", "type": "quantitative", "title": null, "scale": {"domain": [0, 100], "nice": false, "zero": false},
   "axis": {"orient": "right", "values": [0,30,70,100], "grid": true, "gridDash": [3,3], "gridColor": "#b4b4b4", "domain": false, "tickSize": 0, "labelPadding": 3, "labelFlush": true, "labelFlushOffset": 0, "title": null}}}},
{"data": {"name": "rsi"},
 "mark": {"type": "line", "color": "#0000FF", "strokeWidth": 2},
 "encoding": {"x": {"field": "i", "type": "quantitative", "title": null, "scale": {"domain": [-0.25, 385.75], "nice": false, "zero": false},
   "axis": {"orient": "bottom", "values": [0,28,56,84,112,140,168,196,224], "labelExpr": "datum.value == 0 ? '27 Aug 2018' : datum.value == 28 ? '3 Sep 12:00' : datum.value == 56 ? '10 Sep 20:00' : datum.value == 84 ? '18 Sep 04:00' : datum.value == 112 ? '25 Sep 12:00' : datum.value == 140 ? '2 Oct 20:00' : datum.value == 168 ? '10 Oct 04:00' : datum.value == 196 ? '17 Oct 12:00' : '24 Oct 20:00'", "labelFont": "Liberation Sans", "labelFontSize": 9, "labelAlign": "left", "labelBaseline": "top", "labelPadding": 1, "labelOverlap": false, "labelFlush": false, "grid": false, "domain": false, "tickSize": 4, "title": null}},
  "y": {"field": "v", "type": "quantitative", "title": null, "scale": {"domain": [0, 100], "nice": false, "zero": false}}}},
{"data": {"name": "rsiArrows"},
 "mark": {"type": "line", "color": "#FF6A5A", "strokeWidth": 1.5},
 "encoding": {"x": {"field": "i", "type": "quantitative", "title": null, "axis": null, "scale": {"domain": [-0.25, 385.75], "nice": false, "zero": false}},
  "y": {"field": "v", "type": "quantitative", "title": null, "scale": {"domain": [0, 100], "nice": false, "zero": false}},
  "detail": {"field": "arrow"}}},
{"data": {"name": "rsiHeads"},
 "transform": [{"filter": "datum.arrow == 'b1'"}],
 "mark": {"type": "point", "shape": "triangle-up", "filled": true, "color": "#FF6A5A", "opacity": 1, "size": 110, "angle": 31},
 "encoding": {"x": {"field": "i", "type": "quantitative", "title": null, "axis": null, "scale": {"domain": [-0.25, 385.75], "nice": false, "zero": false}},
  "y": {"field": "v", "type": "quantitative", "title": null, "scale": {"domain": [0, 100], "nice": false, "zero": false}}}},
{"data": {"name": "rsiHeads"},
 "transform": [{"filter": "datum.arrow == 'b2'"}],
 "mark": {"type": "point", "shape": "triangle-up", "filled": true, "color": "#FF6A5A", "opacity": 1, "size": 110, "angle": 164},
 "encoding": {"x": {"field": "i", "type": "quantitative", "title": null, "axis": null, "scale": {"domain": [-0.25, 385.75], "nice": false, "zero": false}},
  "y": {"field": "v", "type": "quantitative", "title": null, "scale": {"domain": [0, 100], "nice": false, "zero": false}}}},
{"data": {"name": "texts"},
 "mark": {"type": "text", "text": "RSI(13) 38.4174", "font": "Liberation Sans", "fontSize": 10, "color": "#000000", "align": "left", "baseline": "middle"},
 "encoding": {"x": {"datum": 2, "type": "quantitative", "axis": null, "scale": {"domain": [-0.25, 385.75], "nice": false, "zero": false}, "title": null},
  "y": {"datum": 95.1, "type": "quantitative", "scale": {"domain": [0, 100], "nice": false, "zero": false}, "title": null}}}
]
}
]
}
